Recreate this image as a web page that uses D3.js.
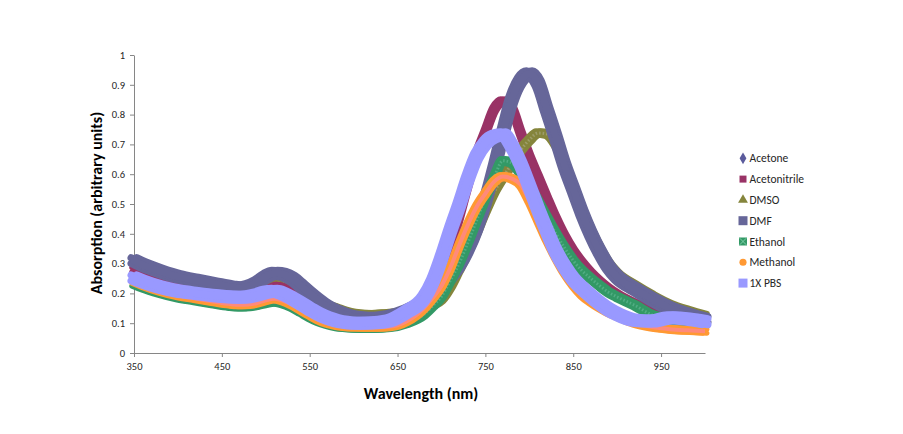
<!DOCTYPE html>
<html><head><meta charset="utf-8">
<script src="https://cdn.jsdelivr.net/npm/d3@7"></script>
<style>body{margin:0;background:#fff;} svg{display:block;}</style>
</head><body>
<svg id="chart" width="903" height="434"></svg>
<script>
const wavelengths = [350,360,380,400,420,440,460,470,480,490,500,510,520,530,540,550,560,570,580,590,600,620,640,660,680,690,700,710,720,730,740,750,760,770,780,790,800,810,820,830,840,850,860,870,880,890,900,920,940,960,980,1000];
const acetone = [0.305,0.291,0.270,0.252,0.240,0.229,0.218,0.214,0.219,0.232,0.251,0.263,0.259,0.245,0.222,0.196,0.172,0.152,0.137,0.126,0.118,0.113,0.119,0.137,0.168,0.191,0.218,0.250,0.290,0.344,0.413,0.502,0.611,0.730,0.840,0.905,0.928,0.897,0.808,0.718,0.623,0.543,0.464,0.395,0.335,0.286,0.251,0.211,0.176,0.147,0.127,0.110];
const acetonitrile = [0.280,0.268,0.247,0.230,0.219,0.209,0.200,0.198,0.201,0.209,0.221,0.226,0.219,0.202,0.182,0.162,0.143,0.128,0.117,0.109,0.105,0.101,0.104,0.118,0.158,0.198,0.258,0.345,0.455,0.565,0.665,0.742,0.818,0.846,0.822,0.740,0.660,0.590,0.520,0.452,0.392,0.342,0.302,0.268,0.240,0.216,0.196,0.165,0.140,0.121,0.106,0.096];
const dmso = [0.310,0.296,0.274,0.256,0.244,0.233,0.222,0.218,0.222,0.232,0.248,0.257,0.254,0.243,0.224,0.200,0.177,0.160,0.150,0.140,0.133,0.128,0.132,0.137,0.150,0.162,0.180,0.222,0.280,0.340,0.405,0.475,0.540,0.590,0.635,0.680,0.715,0.738,0.735,0.700,0.638,0.562,0.482,0.412,0.352,0.302,0.267,0.227,0.192,0.162,0.142,0.125];
const dmf = [0.310,0.296,0.274,0.256,0.244,0.233,0.222,0.218,0.223,0.236,0.256,0.268,0.264,0.250,0.226,0.200,0.176,0.155,0.140,0.129,0.121,0.116,0.122,0.140,0.172,0.195,0.222,0.255,0.295,0.350,0.420,0.510,0.620,0.740,0.850,0.915,0.937,0.905,0.815,0.725,0.630,0.550,0.470,0.400,0.340,0.290,0.255,0.215,0.180,0.150,0.130,0.113];
const ethanol = [0.232,0.220,0.201,0.186,0.176,0.166,0.157,0.155,0.156,0.161,0.168,0.172,0.166,0.154,0.138,0.121,0.107,0.097,0.090,0.086,0.084,0.083,0.086,0.100,0.130,0.158,0.190,0.243,0.300,0.370,0.445,0.520,0.590,0.645,0.638,0.603,0.560,0.510,0.455,0.402,0.353,0.310,0.276,0.250,0.226,0.204,0.188,0.160,0.127,0.110,0.100,0.096];
const methanol = [0.240,0.228,0.208,0.193,0.183,0.173,0.164,0.162,0.163,0.168,0.177,0.182,0.175,0.162,0.145,0.128,0.112,0.100,0.093,0.089,0.087,0.086,0.088,0.106,0.150,0.185,0.225,0.285,0.360,0.430,0.490,0.535,0.575,0.592,0.585,0.565,0.510,0.445,0.380,0.322,0.270,0.228,0.195,0.172,0.153,0.137,0.124,0.100,0.087,0.080,0.076,0.073];
const pbs = [0.252,0.240,0.221,0.208,0.200,0.193,0.188,0.187,0.189,0.195,0.204,0.207,0.199,0.184,0.166,0.148,0.131,0.118,0.109,0.103,0.100,0.101,0.108,0.138,0.185,0.240,0.320,0.410,0.495,0.585,0.660,0.705,0.727,0.732,0.695,0.635,0.560,0.482,0.410,0.342,0.290,0.248,0.218,0.192,0.168,0.147,0.131,0.110,0.107,0.118,0.114,0.105];
const seriesNames = ["Acetone","Acetonitrile","DMSO","DMF","Ethanol","Methanol","1X PBS"];
const seriesValues = [acetone, acetonitrile, dmso, dmf, ethanol, methanol, pbs];
const xTicks = [350,450,550,650,750,850,950];
const yTicks = [0,0.1,0.2,0.3,0.4,0.5,0.6,0.7,0.8,0.9,1];

const styles = [
  {color:"#5b5b9c", s:8, symbol:d3.symbolDiamond, size:40},
  {color:"#993366", s:9.5, symbol:d3.symbolSquare, size:49},
  {color:"#85853c", s:9.5, symbol:d3.symbolTriangle, size:42, over:"#9d9d6a", overW:3, dash:"1.5,2"},
  {color:"#666699", s:13, symbol:d3.symbolSquare, size:81},
  {color:"#339966", s:9.5, symbol:d3.symbolSquare, size:64, over:"#52ad84", overW:3, dash:"1.5,2", xmark:true},
  {color:"#ff9933", s:9, symbol:d3.symbolCircle, size:40, over:"#ff8a7a", overW:4},
  {color:"#9999ff", s:13, symbol:d3.symbolSquare, size:81}
];

const font = "Carlito, Calibri, Lato, 'Open Sans', sans-serif";
const svg = d3.select("#chart");
const x = d3.scaleLinear().domain([350,1000]).range([134,705]);
const y = d3.scaleLinear().domain([0,1]).range([353,55]);

// axes
const xAxis = svg.append("g").attr("transform","translate(0,353)")
  .call(d3.axisBottom(x).tickValues(xTicks).tickSize(4).tickSizeOuter(0).tickPadding(6).tickFormat(d3.format("d")));
const yAxis = svg.append("g").attr("transform","translate(134,0)")
  .call(d3.axisLeft(y).tickValues(yTicks).tickSize(4).tickSizeOuter(0).tickPadding(5)
    .tickFormat(d => d===0 ? "0" : (d===1 ? "1" : d3.format(".1f")(d))));
[xAxis,yAxis].forEach(g => {
  g.select(".domain").attr("stroke","#868686");
  g.selectAll(".tick line").attr("stroke","#868686");
  g.selectAll(".tick text").attr("fill","#262626").style("font-family",font).style("font-size","10.5px");
});

// series: dense square-ish markers emulated by a square brush (4 offset strokes)
const line = d3.line().x((d,i)=>x(wavelengths[i])).y(d=>y(d)).curve(d3.curveMonotoneX);
const plot = svg.append("g");
seriesValues.forEach((vals,k) => {
  const st = styles[k];
  const d = st.s*0.22, w = st.s - 2*d;
  const g = plot.append("g");
  [[-d,-d],[d,-d],[-d,d],[d,d],[0,0]].forEach(([dx,dy]) => {
    g.append("path").datum(vals).attr("d",line).attr("fill","none")
      .attr("transform",`translate(${dx},${dy})`)
      .attr("stroke",st.color).attr("stroke-width",w).attr("stroke-linecap","round").attr("stroke-linejoin","round");
  });
  if (st.over) {
    g.append("path").datum(vals).attr("d",line).attr("fill","none")
      .attr("stroke",st.over).attr("stroke-width",st.overW)
      .attr("stroke-dasharray", st.dash || null).attr("stroke-linejoin","round");
  }
});

// legend
const leg = svg.append("g");
seriesNames.forEach((name,k) => {
  const st = styles[k];
  const cy = 158.3 + k*20.8;
  leg.append("path").attr("d", d3.symbol().type(st.symbol).size(st.size)())
    .attr("transform",`translate(743,${cy})`).attr("fill",st.color);
  if (st.xmark) {
    leg.append("path").attr("d", d3.symbol().type(d3.symbolX).size(30)())
      .attr("transform",`translate(743,${cy})`).attr("fill","none").attr("stroke","#7fcfa8").attr("stroke-width",1);
  }
  leg.append("text").attr("x",749.5).attr("y",cy).attr("dy","0.35em")
    .style("font-family",font).style("font-size","11.5px").attr("fill","#262626").text(name);
});

// titles
svg.append("text").attr("x",421).attr("y",399).attr("text-anchor","middle")
  .style("font-family",font).style("font-size","16px").style("font-weight","bold").attr("fill","#000")
  .text("Wavelength (nm)");
svg.append("text").attr("transform","translate(102,203) rotate(-90)").attr("text-anchor","middle")
  .style("font-family",font).style("font-size","16px").style("font-weight","bold").attr("fill","#000")
  .text("Absorption (arbitrary units)");
</script>
</body></html>
